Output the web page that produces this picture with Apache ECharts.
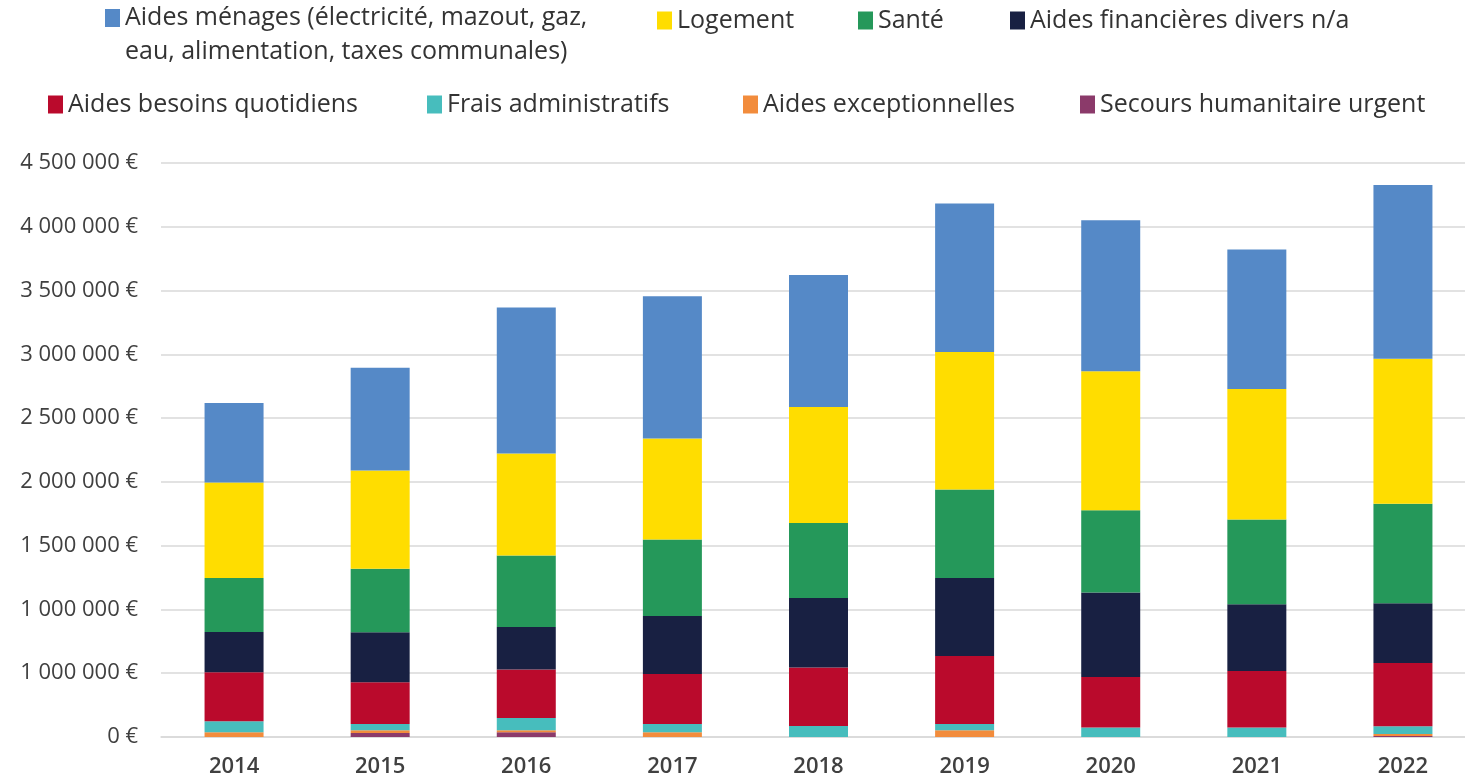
<!DOCTYPE html>
<html>
<head>
<meta charset="utf-8">
<script src="https://cdn.jsdelivr.net/npm/echarts@6/dist/echarts.min.js"></script>
<style>
html,body{margin:0;padding:0;background:#fff;overflow:hidden;}
#chart{width:1476px;height:778px;}
</style>
</head>
<body>
<div id="chart"></div>
<script>
const years = ['2014','2015','2016','2017','2018','2019','2020','2021','2022'];
const yTickLabels = ['0 €','1 000 000 €','1 000 000 €','1 500 000 €','2 000 000 €','2 500 000 €','3 000 000 €','3 500 000 €','4 000 000 €','4 500 000 €'];

const secours = [0, 31000, 37000, 0, 0, 0, 0, 0, 8000];
const exceptionnelles = [37000, 21000, 16000, 37000, 0, 53000, 0, 0, 16000];
const frais = [86000, 49000, 96000, 65000, 86000, 49000, 74000, 74000, 60000];
const besoins = [384000, 329000, 380000, 392000, 458000, 533000, 397000, 444000, 497000];
const financieres = [316000, 392000, 334000, 455000, 546000, 612000, 662000, 523000, 467000];
const sante = [424000, 497000, 560000, 599000, 588000, 693000, 645000, 664000, 780000];
const logement = [748000, 771000, 800000, 792000, 910000, 1079000, 1090000, 1024000, 1137000];
const menages = [624000, 805000, 1145000, 1116000, 1033000, 1164000, 1184000, 1093000, 1362000];

const names = {
  menages: 'Aides ménages (électricité, mazout, gaz,\neau, alimentation, taxes communales)',
  logement: 'Logement',
  sante: 'Santé',
  financieres: 'Aides financières divers n/a',
  besoins: 'Aides besoins quotidiens',
  frais: 'Frais administratifs',
  exceptionnelles: 'Aides exceptionnelles',
  secours: 'Secours humanitaire urgent'
};
const colors = {
  menages: '#5589C7',
  logement: '#FFDD00',
  sante: '#25985A',
  financieres: '#182042',
  besoins: '#BA0A2C',
  frais: '#47BDBD',
  exceptionnelles: '#F28C3C',
  secours: '#8B3A6A'
};
const dataMap = {secours, exceptionnelles, frais, besoins, financieres, sante, logement, menages};
const stackOrder = ['secours','exceptionnelles','frais','besoins','financieres','sante','logement','menages'];

const FONT = "'Open Sans', 'Noto Sans', sans-serif";
const legendText = {fontFamily: FONT, fontSize: 25, color: '#333333'};

function legendAt(key, left, top, extra) {
  return Object.assign({
    show: true,
    left: left, top: top,
    padding: 0,
    orient: 'horizontal',
    selectedMode: false,
    itemWidth: 15, itemHeight: 18,
    icon: 'rect',
    data: [names[key]],
    textStyle: Object.assign({}, legendText)
  }, extra || {});
}

const legends = [
  legendAt('menages', 105, -33, {
    formatter: function (n) { return '\n' + n; },
    textStyle: Object.assign({}, legendText, {lineHeight: 34})
  }),
  legendAt('logement', 657, 8),
  legendAt('sante', 858, 8),
  legendAt('financieres', 1010, 8),
  legendAt('besoins', 48, 92),
  legendAt('frais', 427, 92),
  legendAt('exceptionnelles', 743, 92),
  legendAt('secours', 1080, 92)
];

const series = stackOrder.map(k => ({
  name: names[k],
  type: 'bar',
  stack: 'total',
  barWidth: 59,
  itemStyle: {color: colors[k]},
  data: dataMap[k]
}));

const chart = echarts.init(document.getElementById('chart'), null, {renderer: 'canvas'});
chart.setOption({
  animation: false,
  backgroundColor: '#ffffff',
  legend: legends,
  grid: {left: 161, right: 0, top: 163, bottom: 41, containLabel: false},
  xAxis: {
    type: 'category',
    data: years,
    axisLine: {show: true, lineStyle: {color: '#d9d9d9', width: 1.5}},
    axisTick: {show: false},
    axisLabel: {margin: 19, fontFamily: FONT, fontSize: 22, fontWeight: 600, color: '#404040'}
  },
  yAxis: {
    type: 'value',
    min: 0, max: 4500000, interval: 500000,
    axisLine: {show: false},
    axisTick: {show: false},
    splitLine: {lineStyle: {color: '#d9d9d9', width: 1.5}},
    axisLabel: {
      margin: 23, fontFamily: FONT, fontSize: 22, color: '#404040',
      formatter: function (v) { return yTickLabels[Math.round(v / 500000)]; }
    }
  },
  series: series
});
</script>
</body>
</html>
